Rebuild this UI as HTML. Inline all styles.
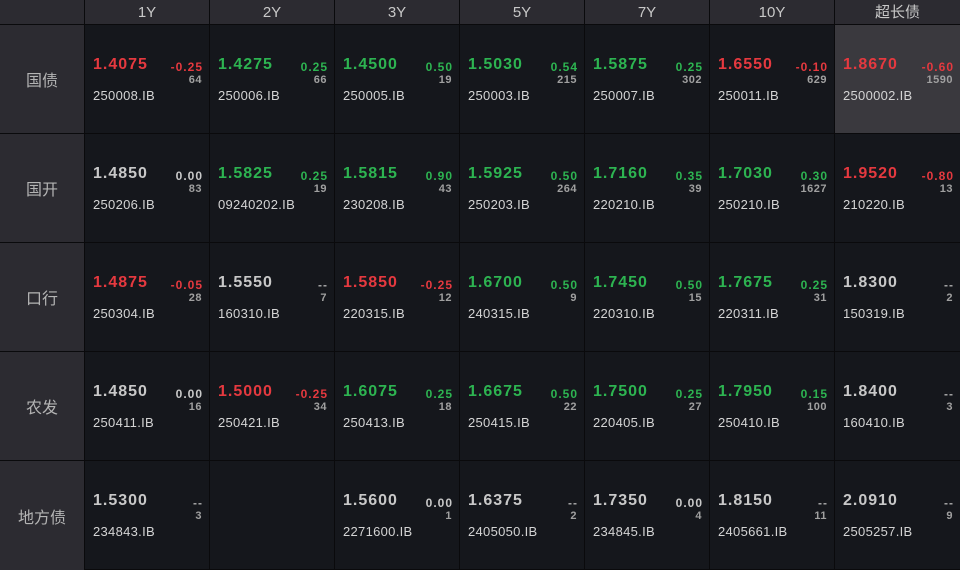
<!DOCTYPE html>
<html><head><meta charset="utf-8">
<style>
*{margin:0;padding:0;box-sizing:border-box}
html,body{width:960px;height:570px;overflow:hidden;background:#0a0a0c}
body{position:relative;font-family:"Liberation Sans","Noto Sans CJK SC",sans-serif}
.h{position:absolute;top:0;height:24px;background:#2c2b31;color:#c8c8c8;font-size:15px;line-height:25px;text-align:center}
.l{position:absolute;left:0;width:84px;height:108px;background:#2c2b31;color:#b4b4b4;font-size:16px;display:flex;align-items:center;justify-content:center;font-family:"Liberation Sans","Noto Sans CJK SC",sans-serif}
.c{position:absolute;width:124px;height:108px;background:#15171c}
.c.hl{background:#3a393e}
.p{position:absolute;left:8px;top:32px;font-weight:bold;font-size:16px;line-height:16px;letter-spacing:1px;color:#c8c8c8;white-space:nowrap}
.d{position:absolute;right:6px;top:36px;font-weight:bold;font-size:12px;line-height:12px;letter-spacing:1px;color:#c8c8c8;white-space:nowrap}
.n{position:absolute;right:7px;top:50px;font-weight:bold;font-size:11px;line-height:11px;letter-spacing:0.5px;color:#a0a0a0;white-space:nowrap}
.b{position:absolute;left:8px;top:64px;font-size:13px;line-height:13px;letter-spacing:0.3px;color:#d4d4d4;white-space:nowrap}
.r{color:#e5393f}
.g{color:#2db451}
.dd{color:#a8a8a8}
</style></head><body>
<div class="h" style="left:0;width:84px"></div>
<div class="h" style="left:85px;width:124px">1Y</div>
<div class="h" style="left:210px;width:124px">2Y</div>
<div class="h" style="left:335px;width:124px">3Y</div>
<div class="h" style="left:460px;width:124px">5Y</div>
<div class="h" style="left:585px;width:124px">7Y</div>
<div class="h" style="left:710px;width:124px">10Y</div>
<div class="h" style="left:835px;width:125px">超长债</div>

<div class="l" style="top:25px">国债</div>
<div class="l" style="top:134px">国开</div>
<div class="l" style="top:243px">口行</div>
<div class="l" style="top:352px">农发</div>
<div class="l" style="top:461px;height:109px">地方债</div>

<!-- Row 1 -->
<div class="c" style="left:85px;top:25px"><div class="p r">1.4075</div><div class="d r">-0.25</div><div class="n">64</div><div class="b">250008.IB</div></div>
<div class="c" style="left:210px;top:25px"><div class="p g">1.4275</div><div class="d g">0.25</div><div class="n">66</div><div class="b">250006.IB</div></div>
<div class="c" style="left:335px;top:25px"><div class="p g">1.4500</div><div class="d g">0.50</div><div class="n">19</div><div class="b">250005.IB</div></div>
<div class="c" style="left:460px;top:25px"><div class="p g">1.5030</div><div class="d g">0.54</div><div class="n">215</div><div class="b">250003.IB</div></div>
<div class="c" style="left:585px;top:25px"><div class="p g">1.5875</div><div class="d g">0.25</div><div class="n">302</div><div class="b">250007.IB</div></div>
<div class="c" style="left:710px;top:25px"><div class="p r">1.6550</div><div class="d r">-0.10</div><div class="n">629</div><div class="b">250011.IB</div></div>
<div class="c hl" style="left:835px;top:25px;width:125px"><div class="p r">1.8670</div><div class="d r">-0.60</div><div class="n">1590</div><div class="b">2500002.IB</div></div>

<!-- Row 2 -->
<div class="c" style="left:85px;top:134px"><div class="p">1.4850</div><div class="d">0.00</div><div class="n">83</div><div class="b">250206.IB</div></div>
<div class="c" style="left:210px;top:134px"><div class="p g">1.5825</div><div class="d g">0.25</div><div class="n">19</div><div class="b">09240202.IB</div></div>
<div class="c" style="left:335px;top:134px"><div class="p g">1.5815</div><div class="d g">0.90</div><div class="n">43</div><div class="b">230208.IB</div></div>
<div class="c" style="left:460px;top:134px"><div class="p g">1.5925</div><div class="d g">0.50</div><div class="n">264</div><div class="b">250203.IB</div></div>
<div class="c" style="left:585px;top:134px"><div class="p g">1.7160</div><div class="d g">0.35</div><div class="n">39</div><div class="b">220210.IB</div></div>
<div class="c" style="left:710px;top:134px"><div class="p g">1.7030</div><div class="d g">0.30</div><div class="n">1627</div><div class="b">250210.IB</div></div>
<div class="c" style="left:835px;top:134px;width:125px"><div class="p r">1.9520</div><div class="d r">-0.80</div><div class="n">13</div><div class="b">210220.IB</div></div>

<!-- Row 3 -->
<div class="c" style="left:85px;top:243px"><div class="p r">1.4875</div><div class="d r">-0.05</div><div class="n">28</div><div class="b">250304.IB</div></div>
<div class="c" style="left:210px;top:243px"><div class="p">1.5550</div><div class="d dd">--</div><div class="n">7</div><div class="b">160310.IB</div></div>
<div class="c" style="left:335px;top:243px"><div class="p r">1.5850</div><div class="d r">-0.25</div><div class="n">12</div><div class="b">220315.IB</div></div>
<div class="c" style="left:460px;top:243px"><div class="p g">1.6700</div><div class="d g">0.50</div><div class="n">9</div><div class="b">240315.IB</div></div>
<div class="c" style="left:585px;top:243px"><div class="p g">1.7450</div><div class="d g">0.50</div><div class="n">15</div><div class="b">220310.IB</div></div>
<div class="c" style="left:710px;top:243px"><div class="p g">1.7675</div><div class="d g">0.25</div><div class="n">31</div><div class="b">220311.IB</div></div>
<div class="c" style="left:835px;top:243px;width:125px"><div class="p">1.8300</div><div class="d dd">--</div><div class="n">2</div><div class="b">150319.IB</div></div>

<!-- Row 4 -->
<div class="c" style="left:85px;top:352px"><div class="p">1.4850</div><div class="d">0.00</div><div class="n">16</div><div class="b">250411.IB</div></div>
<div class="c" style="left:210px;top:352px"><div class="p r">1.5000</div><div class="d r">-0.25</div><div class="n">34</div><div class="b">250421.IB</div></div>
<div class="c" style="left:335px;top:352px"><div class="p g">1.6075</div><div class="d g">0.25</div><div class="n">18</div><div class="b">250413.IB</div></div>
<div class="c" style="left:460px;top:352px"><div class="p g">1.6675</div><div class="d g">0.50</div><div class="n">22</div><div class="b">250415.IB</div></div>
<div class="c" style="left:585px;top:352px"><div class="p g">1.7500</div><div class="d g">0.25</div><div class="n">27</div><div class="b">220405.IB</div></div>
<div class="c" style="left:710px;top:352px"><div class="p g">1.7950</div><div class="d g">0.15</div><div class="n">100</div><div class="b">250410.IB</div></div>
<div class="c" style="left:835px;top:352px;width:125px"><div class="p">1.8400</div><div class="d dd">--</div><div class="n">3</div><div class="b">160410.IB</div></div>

<!-- Row 5 -->
<div class="c" style="left:85px;top:461px;height:108px"><div class="p">1.5300</div><div class="d dd">--</div><div class="n">3</div><div class="b">234843.IB</div></div>
<div class="c" style="left:210px;top:461px;height:108px"></div>
<div class="c" style="left:335px;top:461px;height:108px"><div class="p">1.5600</div><div class="d">0.00</div><div class="n">1</div><div class="b">2271600.IB</div></div>
<div class="c" style="left:460px;top:461px;height:108px"><div class="p">1.6375</div><div class="d dd">--</div><div class="n">2</div><div class="b">2405050.IB</div></div>
<div class="c" style="left:585px;top:461px;height:108px"><div class="p">1.7350</div><div class="d">0.00</div><div class="n">4</div><div class="b">234845.IB</div></div>
<div class="c" style="left:710px;top:461px;height:108px"><div class="p">1.8150</div><div class="d dd">--</div><div class="n">11</div><div class="b">2405661.IB</div></div>
<div class="c" style="left:835px;top:461px;width:125px;height:108px"><div class="p">2.0910</div><div class="d dd">--</div><div class="n">9</div><div class="b">2505257.IB</div></div>
</body></html>
